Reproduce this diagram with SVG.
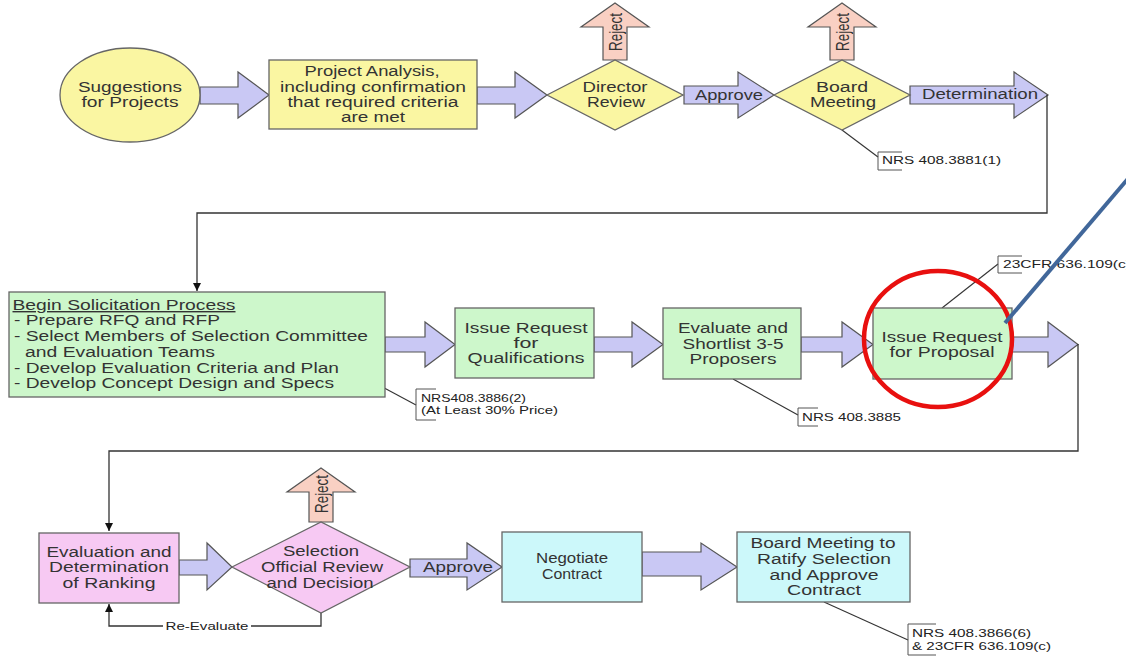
<svg xmlns="http://www.w3.org/2000/svg" width="1126" height="656" viewBox="0 0 1126 656">
<defs>
<marker id="ah" viewBox="0 0 10 10" refX="10" refY="5" markerWidth="8" markerHeight="8" markerUnits="userSpaceOnUse" orient="auto">
<path d="M0,0 L10,5 L0,10 z" fill="#111"/>
</marker>
<style>
text{font-family:"Liberation Sans",Arial,sans-serif;fill:#333;}
.t{font-size:14px;text-anchor:middle;}
.l{font-size:14px;text-anchor:start;}
.s{font-size:11px;fill:#222;}
.rj{font-size:18px;text-anchor:middle;}
.y{fill:#FAF6A2;stroke:#666;stroke-width:1.3;}
.g{fill:#CDF7CB;stroke:#666;stroke-width:1.3;}
.p{fill:#F7C9F3;stroke:#666;stroke-width:1.3;}
.c{fill:#CCF8FA;stroke:#666;stroke-width:1.3;}
.ar{fill:#C9C8F4;stroke:#555;stroke-width:1.2;}
.rja{fill:#F9D0C3;stroke:#555;stroke-width:1.2;}
.cn{fill:none;stroke:#333;stroke-width:1.3;}
.co{fill:none;stroke:#333;stroke-width:1.1;}
.br{fill:none;stroke:#555;stroke-width:1;}
</style>
</defs>

<g id="connectors">
<polygon class="ar" points="200,87 238,87 238,72 269,95 238,118 238,104 200,104"/>
<polygon class="ar" points="477,87 515,87 515,72 547,95 515,118 515,104 477,104"/>
<polygon class="ar" points="684,86 738,86 738,72 774,95 738,118 738,104 684,104"/>
<text class="t" x="729" y="100" textLength="68" lengthAdjust="spacingAndGlyphs">Approve</text>
<polygon class="ar" points="910,86 1014,86 1014,72 1048,95 1014,118 1014,104 910,104"/>
<text class="t" x="980" y="99" textLength="116" lengthAdjust="spacingAndGlyphs">Determination</text>
<polygon class="rja" points="603,60 603,27 581,27 615,3 649,27 627,27 627,60"/>
<text class="rj" transform="translate(622,32) rotate(-90)" textLength="38" lengthAdjust="spacingAndGlyphs">Reject</text>
<polygon class="rja" points="830,60 830,27 808,27 842,3 876,27 854,27 854,60"/>
<text class="rj" transform="translate(849,32) rotate(-90)" textLength="38" lengthAdjust="spacingAndGlyphs">Reject</text>
<path class="cn" d="M1047,95 V213 H197 V291" marker-end="url(#ah)"/>

<polygon class="ar" points="385,337 425,337 425,322 455,344.5 425,367 425,352 385,352"/>
<polygon class="ar" points="594,337 632,337 632,322 663,344.5 632,367 632,352 594,352"/>
<polygon class="ar" points="801,337 842,337 842,322 873,344.5 842,367 842,352 801,352"/>
<polygon class="ar" points="1012,337 1048,337 1048,322 1078,344.5 1048,367 1048,352 1012,352"/>
<path class="cn" d="M1078,344 V451 H109 V531" marker-end="url(#ah)"/>

<polygon class="ar" points="179,560 207,560 207,543 232,567 207,590 207,575 179,575"/>
<polygon class="ar" points="410,559 467,559 467,543 502,567 467,590 467,577 410,577"/>
<text class="t" x="458" y="572" textLength="70" lengthAdjust="spacingAndGlyphs">Approve</text>
<polygon class="ar" points="642,552 701,552 701,543 737,567 701,590 701,576 642,576"/>
<polygon class="rja" points="309,522 309,492 287,492 321,468 355,492 333,492 333,522"/>
<text class="rj" transform="translate(328,494) rotate(-90)" textLength="38" lengthAdjust="spacingAndGlyphs">Reject</text>
<path class="cn" d="M321,613 V626 H109 V604" marker-end="url(#ah)"/>
<rect x="163" y="620" width="88" height="12" fill="#fff"/>
<text class="s" x="207" y="630" text-anchor="middle" textLength="83" lengthAdjust="spacingAndGlyphs">Re-Evaluate</text>
</g>

<g id="callouts">
<path class="co" d="M842,130 L878,157"/>
<path class="br" d="M902,152 H878 V170 H902"/>
<text class="s" x="882" y="164" textLength="119" lengthAdjust="spacingAndGlyphs">NRS 408.3881(1)</text>
<path class="co" d="M347,368 L416,405"/>
<path class="br" d="M436,389 H416 V420 H436"/>
<text class="s" x="421" y="402" textLength="105" lengthAdjust="spacingAndGlyphs">NRS408.3886(2)</text>
<text class="s" x="421" y="414" textLength="137" lengthAdjust="spacingAndGlyphs">(At Least 30% Price)</text>
<path class="co" d="M733,379 L798,415"/>
<path class="br" d="M818,408 H798 V426 H818"/>
<text class="s" x="802" y="421" textLength="99" lengthAdjust="spacingAndGlyphs">NRS 408.3885</text>
<path class="co" d="M942,308 L998,264"/>
<path class="br" d="M1022,256 H998 V273 H1022"/>
<text class="s" x="1003" y="268" textLength="128" lengthAdjust="spacingAndGlyphs">23CFR 636.109(c)</text>
<path class="co" d="M824,602 L908,640"/>
<path class="br" d="M936,624 H908 V655 H936"/>
<text class="s" x="912" y="637" textLength="119" lengthAdjust="spacingAndGlyphs">NRS 408.3866(6)</text>
<text class="s" x="912" y="650" textLength="139" lengthAdjust="spacingAndGlyphs">&amp; 23CFR 636.109(c)</text>
</g>

<g id="n-suggestions">
<ellipse class="y" cx="130" cy="95" rx="70" ry="47"/>
<text class="t" x="130" y="92" textLength="104" lengthAdjust="spacingAndGlyphs">Suggestions</text>
<text class="t" x="130" y="107" textLength="97" lengthAdjust="spacingAndGlyphs">for Projects</text>
</g>
<g id="n-analysis">
<rect class="y" x="269" y="60" width="208" height="69"/>
<text class="t" x="372" y="76" textLength="135" lengthAdjust="spacingAndGlyphs">Project Analysis,</text>
<text class="t" x="373" y="92" textLength="186" lengthAdjust="spacingAndGlyphs">including confirmation</text>
<text class="t" x="373" y="107" textLength="171" lengthAdjust="spacingAndGlyphs">that required criteria</text>
<text class="t" x="373" y="122" textLength="64" lengthAdjust="spacingAndGlyphs">are met</text>
</g>
<g id="n-director">
<polygon class="y" points="547,95 615,60 683,95 615,130"/>
<text class="t" x="615" y="92" textLength="65" lengthAdjust="spacingAndGlyphs">Director</text>
<text class="t" x="616" y="107" textLength="58" lengthAdjust="spacingAndGlyphs">Review</text>
</g>
<g id="n-board">
<polygon class="y" points="774,95 842,60 910,95 842,130"/>
<text class="t" x="842" y="92" textLength="52" lengthAdjust="spacingAndGlyphs">Board</text>
<text class="t" x="843" y="107" textLength="66" lengthAdjust="spacingAndGlyphs">Meeting</text>
</g>

<g id="n-solicitation">
<rect class="g" x="9" y="292" width="376" height="105"/>
<text class="l" x="12.5" y="310" textLength="223" lengthAdjust="spacingAndGlyphs" text-decoration="underline">Begin Solicitation Process</text>
<text class="l" x="14" y="325" textLength="206" lengthAdjust="spacingAndGlyphs">- Prepare RFQ and RFP</text>
<text class="l" x="14" y="341" textLength="354" lengthAdjust="spacingAndGlyphs">- Select Members of Selection Committee</text>
<text class="l" x="25" y="357" textLength="190" lengthAdjust="spacingAndGlyphs">and Evaluation Teams</text>
<text class="l" x="14" y="373" textLength="325" lengthAdjust="spacingAndGlyphs">- Develop Evaluation Criteria and Plan</text>
<text class="l" x="14" y="388" textLength="320" lengthAdjust="spacingAndGlyphs">- Develop Concept Design and Specs</text>
</g>
<g id="n-rfq">
<rect class="g" x="455" y="308" width="139" height="70"/>
<text class="t" x="526" y="333" textLength="123" lengthAdjust="spacingAndGlyphs">Issue Request</text>
<text class="t" x="526" y="348" textLength="25" lengthAdjust="spacingAndGlyphs">for</text>
<text class="t" x="526" y="363" textLength="117" lengthAdjust="spacingAndGlyphs">Qualifications</text>
</g>
<g id="n-shortlist">
<rect class="g" x="663" y="308" width="138" height="71"/>
<text class="t" x="733" y="333" textLength="110" lengthAdjust="spacingAndGlyphs">Evaluate and</text>
<text class="t" x="733" y="349" textLength="101" lengthAdjust="spacingAndGlyphs">Shortlist 3-5</text>
<text class="t" x="733" y="364" textLength="87" lengthAdjust="spacingAndGlyphs">Proposers</text>
</g>
<g id="n-rfp">
<rect class="g" x="873" y="308" width="139" height="71"/>
<text class="t" x="942" y="342" textLength="121" lengthAdjust="spacingAndGlyphs">Issue Request</text>
<text class="t" x="942" y="357" textLength="105" lengthAdjust="spacingAndGlyphs">for Proposal</text>
</g>

<g id="n-ranking">
<rect class="p" x="39" y="533" width="140" height="70"/>
<text class="t" x="109" y="557" textLength="125" lengthAdjust="spacingAndGlyphs">Evaluation and</text>
<text class="t" x="109" y="572" textLength="120" lengthAdjust="spacingAndGlyphs">Determination</text>
<text class="t" x="109" y="588" textLength="93" lengthAdjust="spacingAndGlyphs">of Ranking</text>
</g>
<g id="n-selection">
<polygon class="p" points="232,567 321,522 410,567 321,613"/>
<text class="t" x="321" y="556" textLength="76" lengthAdjust="spacingAndGlyphs">Selection</text>
<text class="t" x="322" y="572" textLength="122" lengthAdjust="spacingAndGlyphs">Official Review</text>
<text class="t" x="320" y="588" textLength="107" lengthAdjust="spacingAndGlyphs">and Decision</text>
</g>
<g id="n-negotiate">
<rect class="c" x="502" y="532" width="140" height="70"/>
<text class="t" x="572" y="563" textLength="72" lengthAdjust="spacingAndGlyphs">Negotiate</text>
<text class="t" x="572" y="579" textLength="60" lengthAdjust="spacingAndGlyphs">Contract</text>
</g>
<g id="n-ratify">
<rect class="c" x="737" y="532" width="173" height="70"/>
<text class="t" x="823" y="548" textLength="145" lengthAdjust="spacingAndGlyphs">Board Meeting to</text>
<text class="t" x="824" y="564" textLength="134" lengthAdjust="spacingAndGlyphs">Ratify Selection</text>
<text class="t" x="824" y="580" textLength="109" lengthAdjust="spacingAndGlyphs">and Approve</text>
<text class="t" x="824" y="595" textLength="74" lengthAdjust="spacingAndGlyphs">Contract</text>
</g>

<g id="highlight">
<ellipse cx="938" cy="339" rx="74" ry="68" fill="none" stroke="#E8100F" stroke-width="4.5"/>
<line x1="1005" y1="323" x2="1132" y2="174" stroke="#41679A" stroke-width="4"/>
</g>
</svg>
